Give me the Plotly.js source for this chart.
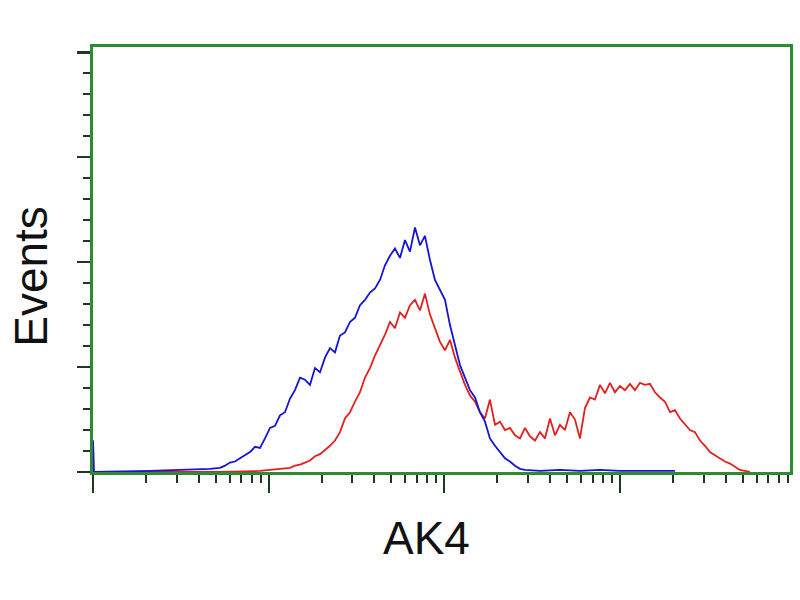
<!DOCTYPE html>
<html>
<head>
<meta charset="utf-8">
<script src="https://cdn.plot.ly/plotly-3.0.1.min.js"></script>
<style>html,body{margin:0;padding:0;background:#fff;}#chart{width:800px;height:600px;}</style>
</head>
<body>
<div id="chart"></div>
<script>
// Fluorescence intensity (log scale) and event counts
var blueX = [1, 1.01, 2.11, 3.13, 4.07, 4.63, 5.28, 5.64, 6.02, 6.43, 6.87, 7.33, 7.83, 8.36, 8.93, 9.53, 10.18, 10.87, 11.60, 12.39, 13.23, 14.12, 15.08, 16.10, 17.19, 18.35, 19.60, 20.93, 22.34, 23.86, 25.47, 27.20, 29.04, 31.00, 33.11, 35.35, 37.74, 40.30, 43.03, 45.94, 49.06, 52.37, 55.92, 59.71, 63.75, 68.07, 72.68, 77.60, 82.86, 88.47, 94.47, 100.9, 107.7, 115.0, 122.8, 131.1, 140.0, 149.5, 159.6, 170.4, 181.9, 194.3, 207.5, 221.5, 236.5, 252.5, 269.6, 287.9, 350.4, 455.4, 591.9, 769.3, 1000, 1299, 1689, 2056];
var blueY = [30, 0, 1, 2, 2, 3, 4, 6, 9, 10, 13, 16, 19, 24, 23, 32, 42, 44, 54, 57, 70, 78, 90, 88, 83, 99, 95, 109, 118, 114, 130, 133, 143, 147, 159, 164, 171, 175, 183, 197, 206, 213, 204, 221, 210, 233, 216, 225, 202, 183, 173, 164, 140, 121, 102, 90, 78, 71, 57, 48, 32, 25, 19, 13, 10, 6, 3, 2, 1, 2, 1, 2, 1, 1, 1, 1];

var redX = [1, 1.01, 5.28, 8.93, 10.18, 11.60, 13.23, 14.12, 15.08, 16.10, 17.19, 18.35, 19.60, 20.93, 22.34, 23.86, 25.47, 27.20, 29.04, 31.00, 33.11, 35.35, 37.74, 40.30, 43.03, 45.94, 49.06, 52.37, 55.92, 59.71, 63.75, 68.07, 72.68, 77.60, 82.86, 88.47, 94.47, 100.9, 107.7, 115.0, 122.8, 131.1, 140.0, 149.5, 159.6, 170.4, 181.9, 194.3, 207.5, 221.5, 236.5, 252.5, 269.6, 287.9, 307.4, 328.2, 350.4, 374.1, 399.5, 426.6, 455.4, 486.3, 519.2, 554.4, 591.9, 632.0, 674.8, 720.5, 769.3, 821.4, 877.0, 936.4, 1000, 1068, 1140, 1217, 1299, 1388, 1482, 1582, 1689, 1804, 1926, 2056, 2196, 2344, 2503, 2673, 2854, 3047, 3253, 3473, 3709, 3960, 4228, 4514, 4820, 5146, 5495];
var redY = [30, 0, 0, 1, 2, 3, 4, 6, 7, 9, 11, 15, 17, 21, 25, 30, 38, 51, 57, 67, 76, 90, 99, 111, 121, 131, 143, 137, 152, 147, 159, 164, 154, 170, 150, 137, 124, 116, 126, 109, 95, 83, 73, 67, 57, 51, 69, 45, 48, 40, 42, 35, 32, 42, 34, 30, 38, 32, 51, 35, 45, 40, 57, 50, 32, 61, 71, 69, 83, 75, 85, 76, 82, 78, 84, 78, 85, 83, 84, 76, 71, 67, 57, 59, 51, 45, 40, 38, 30, 25, 19, 16, 13, 10, 8, 5, 2, 1, 0];

var xLabel = "AK4";
var yLabel = "Events";

var axisGreen = "#2f8a35";
var tickDark = "#203a22";

var traces = [
  {x: redX, y: redY, type: "scatter", mode: "lines", line: {color: "#e3201f", width: 1.8}, hoverinfo: "skip"},
  {x: blueX, y: blueY, type: "scatter", mode: "lines", line: {color: "#1414d2", width: 1.8}, hoverinfo: "skip"}
];

var layout = {
  width: 800, height: 600,
  margin: {l: 93, r: 10, t: 47, b: 128},
  paper_bgcolor: "#ffffff", plot_bgcolor: "#ffffff",
  showlegend: false,
  xaxis: {
    type: "log", range: [0, 3.968],
    showgrid: false, zeroline: false,
    showline: true, linecolor: axisGreen, linewidth: 3, mirror: true,
    ticks: "outside", ticklen: 18, tickwidth: 2, tickcolor: tickDark, dtick: 1,
    showticklabels: false,
    minor: {ticks: "outside", ticklen: 8, tickwidth: 2, tickcolor: tickDark, dtick: "D1", showgrid: false}
  },
  yaxis: {
    range: [0, 405],
    showgrid: false, zeroline: false,
    showline: true, linecolor: axisGreen, linewidth: 3, mirror: true,
    ticks: "outside", ticklen: 13, tickwidth: 2.5, tickcolor: tickDark, dtick: 100,
    showticklabels: false,
    minor: {ticks: "outside", ticklen: 7, tickwidth: 2, tickcolor: tickDark, dtick: 20, showgrid: false}
  },
  annotations: [
    {text: yLabel, xref: "paper", yref: "paper", x: -0.09, y: 0.46, textangle: -90, showarrow: false,
     xanchor: "center", yanchor: "middle", font: {family: "Liberation Sans, Arial, sans-serif", size: 46, color: "#111"}},
    {text: xLabel, xref: "paper", yref: "paper", x: 0.478, y: -0.155, showarrow: false,
     xanchor: "center", yanchor: "middle", font: {family: "Liberation Sans, Arial, sans-serif", size: 46, color: "#111"}}
  ]
};

Plotly.newPlot("chart", traces, layout, {staticPlot: true, displayModeBar: false});
</script>
</body>
</html>
